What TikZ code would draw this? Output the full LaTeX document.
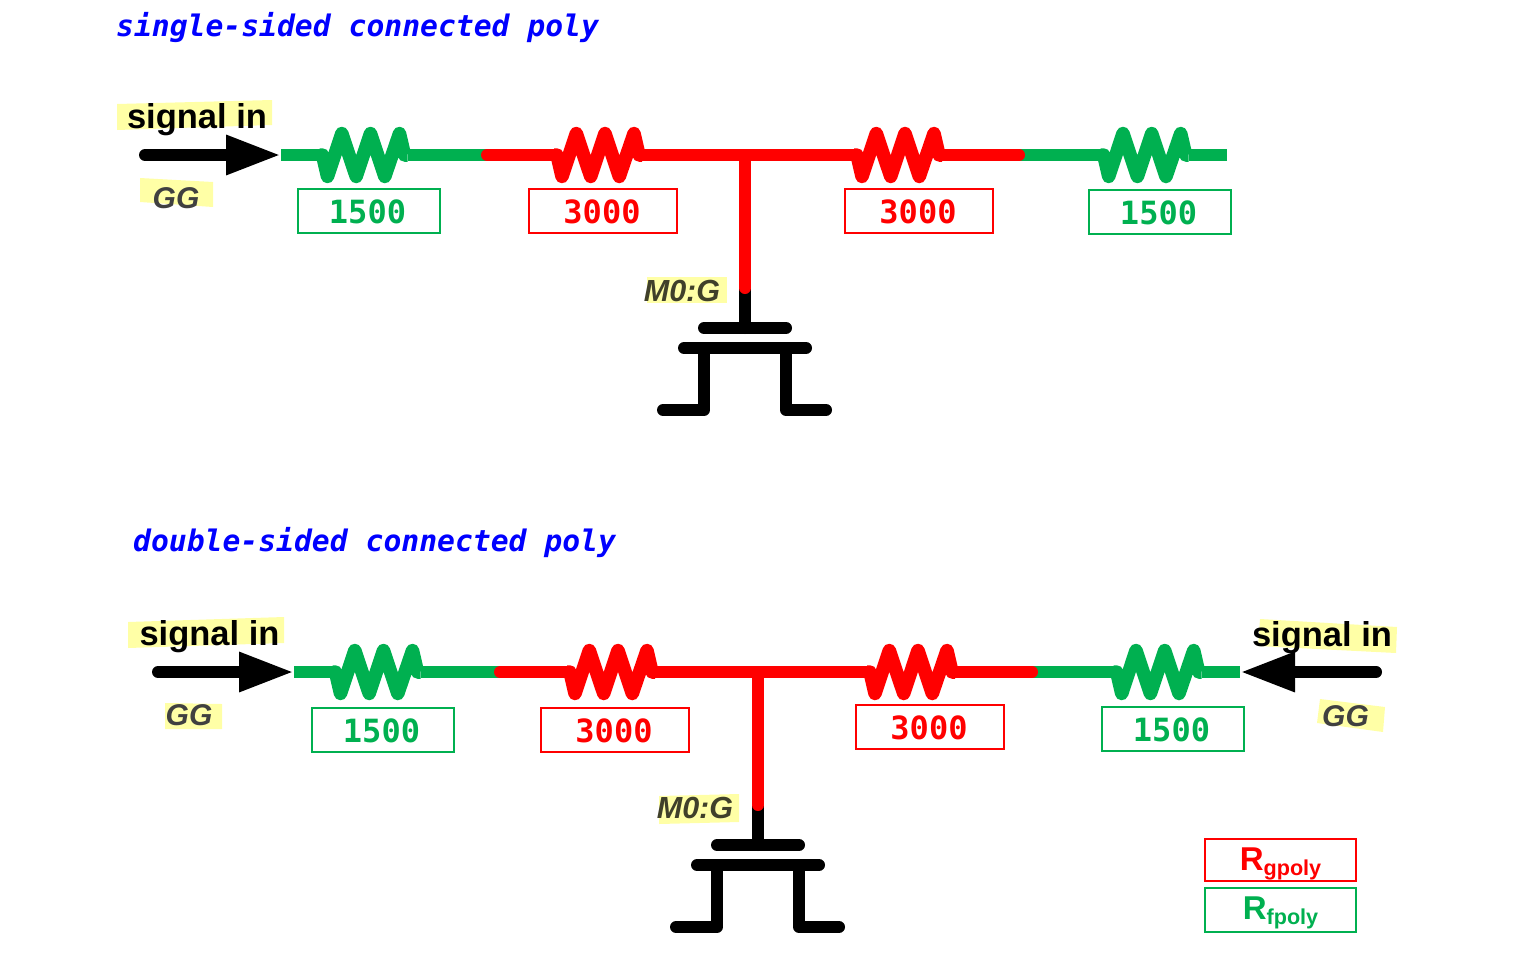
\documentclass[tikz,border=0pt]{standalone}
\usepackage{fontspec}
\setmainfont{Liberation Sans}
\newfontfamily\monof{DejaVu Sans Mono}
\usetikzlibrary{arrows.meta}
\definecolor{polygreen}{HTML}{00B050}
\definecolor{polyred}{HTML}{FF0000}
\definecolor{hilite}{HTML}{FFFFA6}
\definecolor{gglabel}{HTML}{404040}
\definecolor{mzlabel}{HTML}{40402A}
\tikzset{
  wire/.style={line width=12pt,line join=round},
  greenwire/.style={wire,draw=polygreen,line cap=butt},
  redwire/.style={wire,draw=polyred,line cap=round},
  blackwire/.style={wire,draw=black,line cap=round},
  hl/.style={fill=hilite,draw=none},
  signalarrow/.style={wire,draw=black,line cap=round,-{Triangle[length=55pt,width=37pt,fill=black]}},
  sigtext/.style={inner sep=0pt,font=\fontsize{34.5}{36}\selectfont\bfseries,text=black},
  ggtext/.style={inner sep=0pt,font=\fontsize{30}{32}\selectfont\bfseries\itshape,text=gglabel},
  mztext/.style={inner sep=0pt,font=\fontsize{30.5}{32}\selectfont\bfseries\itshape,text=mzlabel},
  titletext/.style={inner sep=0pt,anchor=base west,font=\monof\fontsize{29.7}{32}\selectfont\bfseries\itshape,text=blue},
  valbox/.style={draw=#1,text=#1,line width=2pt,minimum height=44pt,inner sep=0pt,font=\monof\fontsize{32}{34}\selectfont\bfseries},
  greenbox/.style={valbox=polygreen,minimum width=142pt},
  redbox/.style={valbox=polyred,minimum width=148pt},
  legendbox/.style={draw=#1,text=#1,line width=2pt,minimum width=151pt,inner sep=0pt,font=\fontsize{33}{35}\selectfont\bfseries},
  res/.pic={
    \coordinate (-in) at (-44,0);
    \coordinate (-out) at (44,0);
    \draw[line width=13.5pt,line join=round,line cap=butt,pic actions] (-44,0) -- (-41,0) -- (-36,21.5) -- (-21.7,-21.5) -- (-7.3,21.5) -- (7,-21.5) -- (21.3,21.5) -- (36,-21.5) -- (41,0) -- (44,0);
  }
}
\newcommand{\greenval}[1]{\hspace*{-3pt}\raisebox{-12.7pt}[0pt][0pt]{#1}}
\newcommand{\redval}[1]{\hspace*{-2pt}\raisebox{-12pt}[0pt][0pt]{#1}}
\newcommand{\legval}[2]{\raisebox{#1}[0pt][0pt]{R\raisebox{-5pt}{\fontsize{21.6}{24}\selectfont #2}}}
\newcommand{\polychain}[1]{%
  \coordinate (#1s) at (281,155);
  \coordinate (#1a) at (487,155);
  \coordinate (#1t) at (745,155);
  \coordinate (#1b) at (1019,155);
  \coordinate (#1e) at (1227,155);
  \coordinate (#1g) at (745,288);
  \coordinate (#1h) at (745,328);
  \pic[draw=polygreen] (#1r1) at (363.5,155) {res};
  \pic[draw=polyred] (#1r2) at (598,155) {res};
  \pic[draw=polyred] (#1r3) at (898,155) {res};
  \pic[draw=polygreen] (#1r4) at (1144.7,155) {res};
  \draw[greenwire] (#1s) -- (#1r1-in);
  \draw[greenwire] (#1r1-out) -- (#1a);
  \draw[greenwire] (#1b) -- (#1r4-in);
  \draw[greenwire] (#1r4-out) -- (#1e);
  \draw[blackwire] (#1g) -- (#1h);
  \draw[blackwire] (704,328) -- (786,328);
  \draw[blackwire] (684,348) -- (806,348);
  \draw[blackwire] (704,348) -- (704,410) -- (663,410);
  \draw[blackwire] (786,348) -- (786,410) -- (826,410);
  \draw[redwire] (#1a) -- (#1r2-in);
  \draw[redwire] (#1r2-out) -- (#1r3-in);
  \draw[redwire] (#1r3-out) -- (#1b);
  \draw[redwire] (#1t) -- (#1g);
}
\begin{document}
\begin{tikzpicture}[x=1pt,y=-1pt]
\useasboundingbox (0,0) rectangle (1514,964);
% highlights
\fill[hl] (117,104) -- (272,100) -- (272,125) -- (117,130) -- cycle;
\fill[hl] (140,178) -- (213,182) -- (213,207) -- (140,202) -- cycle;
\fill[hl] (647,277) rectangle (727,303);
\fill[hl] (128,622) -- (284,617) -- (284,643) -- (128,648) -- cycle;
\fill[hl] (165,703) -- (222,704) -- (222,729) -- (165,729) -- cycle;
\fill[hl] (659,796) -- (739,794) -- (739,822) -- (659,824) -- cycle;
\fill[hl] (1260,619) -- (1397,627) -- (1396,653) -- (1258,646) -- cycle;
\fill[hl] (1320,699) -- (1385,707) -- (1383,732) -- (1317,723) -- cycle;
% titles
\node[titletext] (t1) at (116,36) {single-sided connected poly};
\node[titletext] (t2) at (133,551) {double-sided connected poly};
% circuits
\polychain{u}
\begin{scope}[shift={(13,517)}]
\polychain{d}
\end{scope}
% arrows
\coordinate (ua) at (145,155);
\coordinate (da) at (158,672);
\coordinate (ra) at (1376,672);
\draw[signalarrow] (ua) -- (us);
\draw[signalarrow] (da) -- (ds);
\draw[signalarrow] (ra) -- (de);
% labels
\node[sigtext] (s1) at (197,120) {signal in};
\node[sigtext] (s2) at (209.5,637) {signal in};
\node[sigtext] (s3) at (1322,638) {signal in};
\node[ggtext] (g1) at (176,198) {GG};
\node[ggtext] (g2) at (189,715.5) {GG};
\node[ggtext] (g3) at (1345.5,716) {GG};
\node[mztext] (m1) at (682,291) {M0:G};
\node[mztext] (m2) at (695,808) {M0:G};
% value boxes
\node[greenbox] (v1) at (369,211) {\greenval{1500}};
\node[redbox] (v2) at (603,211) {\redval{3000}};
\node[redbox] (v3) at (919,211) {\redval{3000}};
\node[greenbox] (v4) at (1160,212) {\greenval{1500}};
\node[greenbox] (v5) at (383,730) {\greenval{1500}};
\node[redbox] (v6) at (615,730) {\redval{3000}};
\node[redbox] (v7) at (930,727) {\redval{3000}};
\node[greenbox] (v8) at (1173,729) {\greenval{1500}};
% legend
\node[legendbox=polyred,minimum height=42pt] (l1) at (1280.5,860) {\legval{-10pt}{gpoly}};
\node[legendbox=polygreen,minimum height=44pt] (l2) at (1280.5,910) {\legval{-9pt}{fpoly}};
\end{tikzpicture}
\end{document}
